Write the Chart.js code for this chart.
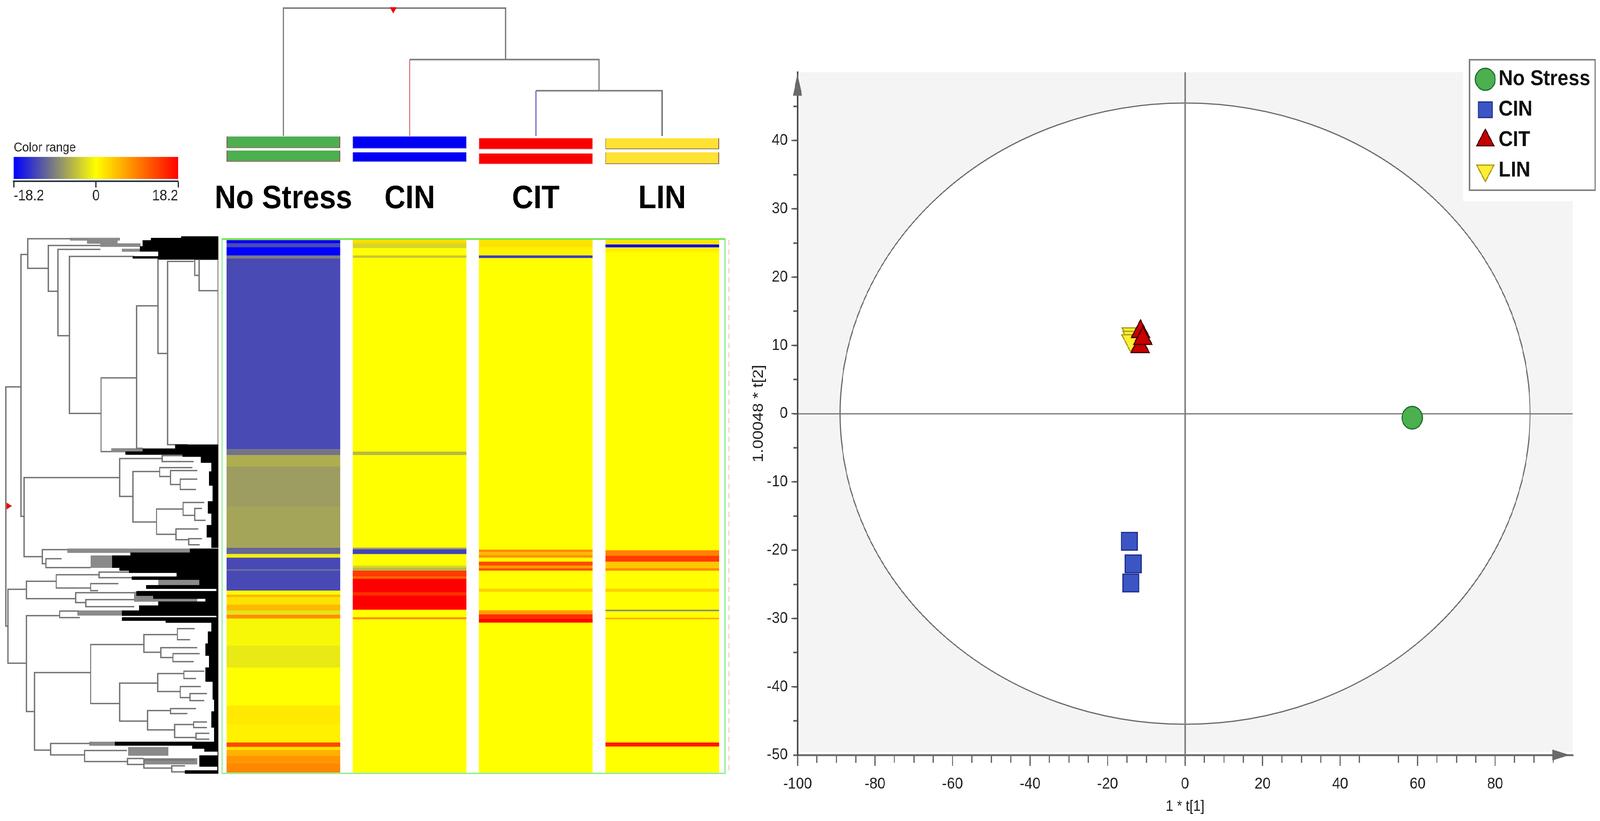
<!DOCTYPE html>
<html>
<head>
<meta charset="utf-8">
<script src="https://cdn.jsdelivr.net/npm/chart.js@4"></script>
<style>
  html, body { margin: 0; padding: 0; background: #fff; overflow: hidden; }
  #page { position: relative; width: 4562px; height: 2102px; overflow: hidden; transform-origin: 0 0; }
  canvas { position: absolute; left: 0; top: 0; }
</style>
</head>
<body>
<div id="page"></div>
<script>
// heatmap: [first row, last row, log2 value], rows run 0-1000 top to bottom
const groups = ['No Stress', 'CIN', 'CIT', 'LIN']
const noStressBands = [
  [0, 1000, 0], [0.5, 6.8, -18.2], [6.8, 13.6, -13], [13.6, 29.2, -18.2], [29.2, 34.8, -9.5],
  [34.8, 392.6, -12.9], [392.6, 403.4, -10], [403.4, 424, -5.8], [424, 500, -7], [500, 577, -6.4],
  [577, 589, -11], [589, 595.8, -1], [595.8, 618, -13], [618, 620, -10], [620, 657.6, -13],
  [657.6, 665, 0.3], [665, 669.6, 5.5], [669.6, 683.8, 2], [683.8, 695, 5], [695, 702.6, -2],
  [702.6, 710, 8], [710, 760.6, -0.6], [760.6, 801.8, -1.6], [801.8, 873, 0], [873, 908.5, 1.6],
  [908.5, 942.2, 1], [942.2, 950.5, 13], [950.5, 956, 2], [956, 966.6, 5.6], [966.6, 980.8, 7.5],
  [980.8, 1000, 8.5]
]
const cinBands = [
  [0, 1000, 0], [0.5, 6.8, 2.5], [6.8, 15.4, -3], [29.2, 33.7, -4], [397, 403.4, -5],
  [577, 580, -7], [580, 589, -13.5], [610.8, 614.6, -3], [614.6, 620, -5], [620, 631.4, 14],
  [631.4, 635, 11], [635, 661.4, 18.2], [661.4, 667, 15], [667, 693.2, 18.2], [707.4, 711.2, 8]
]
const citBands = [
  [0, 1000, 0], [0.5, 14.3, 2], [14.3, 29.2, 1], [29.2, 34.1, -14], [580.8, 585.3, 8.5],
  [585.3, 591, 5], [591, 595.8, 8], [603.3, 610.8, 13], [610.8, 615.7, 7], [615.7, 620, 12.5],
  [654, 659.5, 3.4], [694.3, 701.8, 7], [701.8, 710, 15], [710, 717.5, 18]
]
const linBands = [
  [0, 1000, 0], [0.5, 8.7, 2], [8.7, 14.3, -18], [14.3, 23.6, 1], [582, 592, 9], [592, 603.3, 14],
  [603.3, 615.7, 4], [615.7, 620, 8.5], [654, 659.5, 3.4], [693.2, 696.2, -8], [708.2, 711.2, 6],
  [942.2, 949.7, 16.5]
]
const allBands = [noStressBands, cinBands, citBands, linBands]

// colour key
const rangeMin = -18.2
const rangeMax = 18.2
const rangeTicks = [-18.2, 0, 18.2]

// sample tree above the heatmap, x is the group index, y the merge height
const sampleTreeX = [0, 0, 1.76, 1.76, null, 1, 2.5, 2.5, null, 2, 3, 3]
const sampleTreeY = [0, 100, 100, 59.8, null, 59.8, 59.8, 35.4, null, 35.4, 35.4, 0]
const cinBranchX = [1, 1]
const cinBranchY = [59.8, 0]
const citBranchX = [2, 2]
const citBranchY = [35.4, 0]
// [group, upper top, upper bottom, lower top, lower bottom]
const sampleBars = [
  ['No Stress', -0.3, -9.5, -11.3, -20.2],
  ['CIN', -0.3, -9.8, -12.8, -20.2],
  ['CIT', -1.8, -10.4, -13.7, -22],
  ['LIN', -1.8, -10.4, -12.8, -22]
]
const sampleColors = ['#4caf50', '#0000f5', '#f80000', '#ffe232']
const sampleEdges = ['#8a4a4a', '#3030e0', '#f04040', '#7a5a4a']

// metabolite tree left of the heatmap: [node x, row a, row b, child x at a, child x at b]
const rowBrackets = [
  [10, 275.7, 724, 72, 18], [72, 27.4, 518.4, 100, 85], [100, -2, 53.5, 280, 185], [185, 10.6, 96.5, 400, 225],
  [225, 18, 179.7, 400, 272], [272, 31.1, 325.4, 540, 403], [403, 258.9, 397, 550, 445], [550, 123.7, 390.7, 638, 575],
  [638, 36, 213, 800, 678], [678, 40.4, 384, 785, 760], [790, 36.7, 66.6, 808, 808], [808, 36.7, 95.3, 888, 888],
  [886, 36, 384, 886, 886],
  [85, 445.6, 594, 480, 160], [480, 410, 481, 655, 535], [655, 404.5, 415.7, 785, 785], [535, 434.4, 528.9, 645, 632],
  [645, 427, 443.7, 780, 690], [690, 432.5, 458.7, 800, 730], [730, 448.6, 468, 800, 795], [632, 504.6, 552, 742, 712],
  [742, 492.3, 516.5, 830, 790], [790, 503.5, 525.9, 820, 835], [712, 542, 562, 805, 765], [765, 560.2, 571.5, 820, 810],
  [160, 580.8, 607, 265, 175], [175, 597.7, 614.5, 240, 360], [18, 655, 793.6, 95, 95], [95, 640, 672.6, 218, 298],
  [218, 627.7, 652.7, 395, 360], [395, 622.8, 633.3, 640, 640], [360, 644.5, 657.6, 475, 390], [298, 661.4, 680, 540, 340],
  [340, 674.5, 687.6, 540, 540], [95, 704.4, 884.2, 232, 128], [232, 695.8, 708.2, 310, 315], [128, 811.2, 956.5, 360, 195],
  [360, 758.7, 869.2, 580, 480], [580, 740, 773, 718, 650], [718, 728.8, 749.4, 790, 770], [650, 764.4, 783, 800, 700],
  [700, 775.6, 790.6, 810, 785], [480, 831, 902.2, 637, 595], [637, 813, 846.7, 745, 730], [745, 808.5, 822.4, 830, 795],
  [730, 837.4, 858, 815, 770], [770, 850.5, 863.6, 840, 830], [595, 882.3, 918.6, 690, 707], [690, 878.6, 888, 795, 760],
  [707, 908.5, 932.9, 785, 795], [785, 903.7, 914.2, 840, 840], [795, 925, 936, 850, 850], [195, 944.1, 965.5, 360, 335],
  [335, 957.2, 977.8, 510, 512], [512, 972.2, 983.4, 580, 580], [580, 974.8, 990.2, 790, 695], [695, 986, 997.3, 750, 750]
]
// dense leaves: [row, left edge of the black], last entry closes the block
const leavesTop = [[-6.2, 735], [-3.2, 610], [1.2, 575], [12.4, 565], [21.8, 640], [31.1, 535], [34.8, 640], [36.7]]
const leavesMiddle = [
  [384, 710], [391.5, 575], [397, 505], [402.6, 740], [406.4, 815], [417.6, 860], [434.4, 850], [460.5, 865],
  [490.4, 845], [512.8, 860], [535, 840], [557.6, 860], [577]
]
const leavesLower = [
  [579, 770], [586.5, 525], [592, 450], [614.5, 480], [620, 520], [624, 715], [631.4, 530], [637, 810], [647.5, 590],
  [653.9, 880], [658.7, 550], [667, 620], [672.6, 835], [678.2, 640], [685.7, 560], [695, 490], [704.4, 880],
  [707.8, 490], [713.8, 670], [717.5, 860], [734.4, 845], [756.9, 835], [779.3, 850], [801.8, 835], [828, 865],
  [861.7, 870], [884.2, 860], [914, 870], [940.4]
]
const leavesBottom = [
  [941, 460], [947.9, 780], [953.5, 830], [959, 885], [966.6, 810], [987.2, 884], [994.7, 750], [1000.3]
]
// grey leaf bundles: [left, right, first row, last row]
const greyBundles = [
  [275, 480, -3.5, 1.2], [345, 470, 1.2, 7], [400, 565, 7, 13], [490, 565, 17, 22], [445, 575, 391, 398],
  [265, 770, 579, 586.5], [360, 450, 592, 614.5], [640, 810, 637, 647.5], [540, 800, 660, 678], [305, 490, 695, 704],
  [355, 460, 941, 948], [515, 680, 951, 966.6], [580, 800, 972, 983]
]

// score plot
const noStressX = [58.6]
const noStressY = [-0.6]
const cinX = [-14.4, -13.4, -14]
const cinY = [-18.7, -22, -24.8]
const citX = [-11.6, -11.5, -10.9]
const citY = [9.8, 12, 11]
const linX = [-13.9, -13.7, -14]
const linY = [11.7, 11.2, 10.7]
const ellipseA = 89
const ellipseB = 45.5
const legendCutX = 71.7
const legendCutY = 31.1

const W = 4562
const H = 2102
// the window can come out narrower than asked, keep the whole figure in view
document.getElementById('page').style.transform = `scaleX(${Math.min(1, window.innerWidth / W)})`

Chart.defaults.font.family = "'Liberation Sans', Arial, sans-serif"
Chart.defaults.color = '#222'
Chart.defaults.animation = false
Chart.defaults.responsive = false
Chart.defaults.devicePixelRatio = 1
Chart.defaults.plugins.legend.display = false
Chart.defaults.plugins.tooltip.enabled = false

function addChart(cfg) {
  const c = document.createElement('canvas')
  c.width = W
  c.height = H
  document.getElementById('page').appendChild(c)
  return new Chart(c, cfg)
}

function mixColor(a, b, t) {
  return `rgb(${a.map((v, i) => Math.round(v + (b[i] - v) * t)).join(',')})`
}
function heatColor(v) {
  const blue = [0, 0, 255], yellow = [255, 255, 0], red = [255, 0, 0]
  return v < 0 ? mixColor(yellow, blue, v / rangeMin) : mixColor(yellow, red, v / rangeMax)
}
const zip = (xs, ys) => xs.map((x, i) => ({ x, y: ys[i] }))

// heatmap
const bandPoints = groups.flatMap((g, i) => allBands[i].map(b => ({ x: g, y: [b[0], b[1]], v: b[2] })))
const framePlugin = {
  id: 'frame',
  afterDraw(chart) {
    const { ctx, chartArea: a } = chart
    ctx.save()
    ctx.strokeStyle = '#9cef9c'
    ctx.lineWidth = 4
    ctx.strokeRect(a.left + 5, a.top - 2, a.width - 6, a.height + 2)
    ctx.strokeStyle = '#6fe24a'
    ctx.beginPath()
    ctx.moveTo(a.left + 5, a.top - 2)
    ctx.lineTo(a.right - 1, a.top - 2)
    ctx.stroke()
    ctx.strokeStyle = 'rgba(230,120,120,.5)'
    ctx.lineWidth = 2
    ctx.setLineDash([14, 10])
    ctx.beginPath()
    ctx.moveTo(a.right + 10, a.top)
    ctx.lineTo(a.right + 10, a.bottom)
    ctx.stroke()
    ctx.restore()
  }
}
addChart({
  type: 'bar',
  data: {
    labels: groups,
    datasets: [{
      data: bandPoints,
      backgroundColor: bandPoints.map(p => heatColor(p.v)),
      borderWidth: 0,
      barPercentage: 0.9,
      categoryPercentage: 1
    }]
  },
  options: {
    layout: { padding: { left: 628, right: W - 2068, bottom: H - 1980, top: 0 } },
    scales: {
      x: {
        position: 'top',
        grid: { display: false, drawTicks: false },
        border: { display: false },
        ticks: { autoSkip: false, font: { size: 84, weight: 'bold' }, color: '#000', padding: 54, maxRotation: 0 },
        afterFit(s) { s.height = 614 }
      },
      y: { display: false, reverse: true, min: 0, max: 1000 }
    }
  },
  plugins: [framePlugin]
})

// sample tree with its coloured group bars
const sampleBarPoints = sampleBars.flatMap(b => [{ x: b[0], y: [b[1], b[2]] }, { x: b[0], y: [b[3], b[4]] }])
const doubled = arr => arr.flatMap(c => [c, c])
addChart({
  data: {
    labels: groups,
    datasets: [
      { type: 'scatter', xAxisID: 'xi', data: [{ x: 0.87, y: 99 }], pointStyle: 'triangle', rotation: 180, pointRadius: 11, backgroundColor: '#f00000', borderWidth: 0 },
      { type: 'scatter', xAxisID: 'xi', showLine: true, data: zip(sampleTreeX, sampleTreeY), borderColor: '#7c7c7c', borderWidth: 4, pointRadius: 0 },
      { type: 'scatter', xAxisID: 'xi', showLine: true, data: zip(cinBranchX, cinBranchY), borderColor: '#d86a6a', borderWidth: 3, pointRadius: 0 },
      { type: 'scatter', xAxisID: 'xi', showLine: true, data: zip(citBranchX, citBranchY), borderColor: '#6a6ac8', borderWidth: 3, pointRadius: 0 },
      { type: 'bar', grouped: false, data: sampleBarPoints, backgroundColor: doubled(sampleColors), borderColor: doubled(sampleEdges), borderWidth: 2, barPercentage: 0.9, categoryPercentage: 1 }
    ]
  },
  options: {
    layout: { padding: { left: 628, right: W - 2068, top: 0, bottom: H - 430 } },
    scales: {
      x: { display: false, offset: true },
      xi: { type: 'linear', display: false, min: -0.5, max: 3.5 },
      y: { display: false, min: -25, max: 103 }
    }
  }
})

// metabolite tree
const bracketPoints = rowBrackets.flatMap(([n, a, b, c1, c2]) => [
  { x: c1, y: a }, { x: n, y: a }, { x: n, y: b }, { x: c2, y: b }, { x: null, y: null }
])
function stairShape(rows) {
  const pts = [{ x: 888, y: rows[0][0] }]
  rows.slice(0, -1).forEach((r, i) => {
    pts.push({ x: r[1], y: r[0] }, { x: r[1], y: rows[i + 1][0] })
  })
  pts.push({ x: 888, y: rows[rows.length - 1][0] }, pts[0])
  return pts
}
const shapeSet = (data, color) => ({
  type: 'scatter', showLine: true, data, fill: 'shape', backgroundColor: color, borderColor: color, borderWidth: 1, pointRadius: 0
})
const greySets = greyBundles.map(([l, r, a, b]) => shapeSet(
  [{ x: l, y: a }, { x: r, y: a }, { x: r, y: b }, { x: l, y: b }, { x: l, y: a }], '#8a8a8a'
))
addChart({
  type: 'scatter',
  data: {
    datasets: [
      { data: [{ x: 20, y: 499 }], pointStyle: 'triangle', rotation: 90, pointRadius: 10, backgroundColor: '#f00000', borderWidth: 0 },
      ...[leavesTop, leavesMiddle, leavesLower, leavesBottom].map(r => shapeSet(stairShape(r), '#000')),
      { showLine: true, data: bracketPoints, borderColor: '#747474', borderWidth: 3.5, pointRadius: 0 },
      ...greySets
    ]
  },
  options: {
    layout: { padding: { left: 0, right: W - 623, top: 600.3, bottom: H - 1986.8 } },
    scales: {
      x: { display: false, min: 0, max: 888 },
      y: { display: false, reverse: true, min: -10, max: 1005 }
    }
  }
})

// colour key
addChart({
  type: 'bar',
  data: {
    labels: ['range'],
    datasets: [{
      data: [[rangeMin, rangeMax]],
      barPercentage: 1,
      categoryPercentage: 0.83,
      borderWidth: 0,
      backgroundColor(ctx) {
        const a = ctx.chart.chartArea
        if (!a) return '#ff0'
        const g = ctx.chart.ctx.createLinearGradient(a.left, 0, a.right, 0)
        g.addColorStop(0, heatColor(rangeMin))
        g.addColorStop(0.5, heatColor(0))
        g.addColorStop(1, heatColor(rangeMax))
        return g
      }
    }]
  },
  options: {
    indexAxis: 'y',
    layout: { padding: { left: 39, right: W - 508, top: 362, bottom: 0 } },
    plugins: {
      title: { display: true, text: 'Color range', align: 'start', font: { size: 34, weight: 'normal', lineHeight: 1 }, color: '#222', padding: 0 }
    },
    scales: {
      y: { display: false },
      x: {
        min: rangeMin,
        max: rangeMax,
        afterBuildTicks(s) { s.ticks = rangeTicks.map(value => ({ value })) },
        grid: { drawOnChartArea: false, tickLength: 16, tickColor: '#222', tickWidth: 3 },
        border: { color: '#26323c', width: 4 },
        ticks: { align: 'inner', font: { size: 38 }, color: '#222', padding: 0, maxRotation: 0, callback: v => String(v) },
        afterFit(s) { s.height = H - 464 }
      }
    }
  }
})

// score plot
const ellipsePlugin = {
  id: 'ellipse',
  beforeDraw(chart) {
    const { ctx, chartArea: a, scales: { x, y } } = chart
    ctx.save()
    ctx.fillStyle = '#f4f4f4'
    ctx.fillRect(a.left + 8, a.top, a.width - 8, a.height - 8)
    ctx.fillStyle = '#fff'
    ctx.fillRect(x.getPixelForValue(legendCutX), 0, W, y.getPixelForValue(legendCutY))
    ctx.beginPath()
    ctx.ellipse(x.getPixelForValue(0), y.getPixelForValue(0),
      x.getPixelForValue(ellipseA) - x.getPixelForValue(0),
      y.getPixelForValue(0) - y.getPixelForValue(ellipseB), 0, 0, Math.PI * 2)
    ctx.fill()
    ctx.strokeStyle = '#6a6a6a'
    ctx.lineWidth = 3
    ctx.stroke()
    ctx.restore()
  },
  afterLayout(chart) {
    const l = chart.legend
    l.left = 4203
    l.right = 4548
    l.top = 153
    l.bottom = 520
  },
  afterDraw(chart) {
    const { ctx, chartArea: a, scales: { x, y } } = chart
    ctx.save()
    // legend frame
    ctx.strokeStyle = '#808080'
    ctx.lineWidth = 4
    ctx.strokeRect(4190, 153, 358, 334)
    // longer major ticks
    ctx.strokeStyle = '#555'
    ctx.lineWidth = 3
    ctx.beginPath()
    for (let v = -100; v <= 80; v += 20) {
      const p = x.getPixelForValue(v)
      ctx.moveTo(p, a.bottom + 18)
      ctx.lineTo(p, a.bottom + 28)
    }
    for (let v = -40; v <= 40; v += 10) {
      const p = y.getPixelForValue(v)
      ctx.moveTo(a.left - 11, p)
      ctx.lineTo(a.left - 17, p)
    }
    ctx.stroke()
    // axis arrow heads
    ctx.fillStyle = '#6a6a6a'
    ctx.beginPath()
    ctx.moveTo(a.left, a.top + 2)
    ctx.lineTo(a.left - 13, a.top + 60)
    ctx.lineTo(a.left + 13, a.top + 60)
    ctx.closePath()
    ctx.fill()
    ctx.beginPath()
    ctx.moveTo(a.right - 8, a.bottom)
    ctx.lineTo(a.right - 58, a.bottom - 14)
    ctx.lineTo(a.right - 58, a.bottom + 14)
    ctx.closePath()
    ctx.fill()
    ctx.restore()
  }
}
const tickColor = c => (c.tick.value === 100 || c.tick.value === 50 ? 'transparent' : '#555')
addChart({
  type: 'scatter',
  data: {
    datasets: [
      { label: 'No Stress', data: zip(noStressX, noStressY), pointStyle: 'circle', pointRadius: 29, backgroundColor: '#4caf50', borderColor: '#1b6b2a', borderWidth: 3 },
      { label: 'CIN', data: zip(cinX, cinY), pointStyle: 'rect', pointRadius: 32, backgroundColor: '#3b55c4', borderColor: '#1c2c8c', borderWidth: 3 },
      { label: 'CIT', data: zip(citX, citY), pointStyle: 'triangle', pointRadius: 30, backgroundColor: '#c80000', borderColor: '#400000', borderWidth: 3 },
      { label: 'LIN', data: zip(linX, linY), pointStyle: 'triangle', rotation: 180, pointRadius: 30, backgroundColor: '#ffee33', borderColor: '#a89a10', borderWidth: 3 }
    ]
  },
  options: {
    layout: { padding: { left: 2100, right: W - 4484, top: 185, bottom: 0 } },
    plugins: {
      legend: {
        display: true,
        position: 'chartArea',
        align: 'start',
        labels: { usePointStyle: true, boxWidth: 20, boxHeight: 40, padding: 22, color: '#111', font: { size: 56, weight: 'bold', lineHeight: 1 } }
      }
    },
    scales: {
      x: {
        min: -100,
        max: 100,
        grid: { tickLength: 20, tickColor, tickWidth: 3, lineWidth: 4, color: c => (c.tick.value === 0 ? '#808080' : 'transparent') },
        border: { color: '#6e6e6e', width: 5 },
        ticks: { stepSize: 5, autoSkip: false, maxRotation: 0, padding: 30, font: { size: 41 }, color: '#222', callback: v => (v % 20 === 0 && v !== 100 ? String(v) : '') },
        title: { display: true, text: '1 * t[1]', font: { size: 38 }, color: '#222', padding: { top: 0, bottom: 14 } },
        afterFit(s) { s.height = H - 1933 }
      },
      y: {
        min: -50,
        max: 50,
        grid: { tickLength: 12, tickColor, tickWidth: 4, lineWidth: 3, color: c => (c.tick.value === 0 ? '#777' : 'transparent') },
        border: { color: '#4a4a4a', width: 5 },
        ticks: { stepSize: 5, autoSkip: false, padding: 16, font: { size: 41 }, color: '#222', callback: v => (v % 10 === 0 && v !== 50 ? String(v) : '') },
        title: { display: true, text: '1.00048 * t[2]', font: { size: 42 }, color: '#222', padding: { top: 38, bottom: 0 } },
        afterFit(s) { s.width = 174 }
      }
    }
  },
  plugins: [ellipsePlugin]
})
</script>
</body>
</html>
